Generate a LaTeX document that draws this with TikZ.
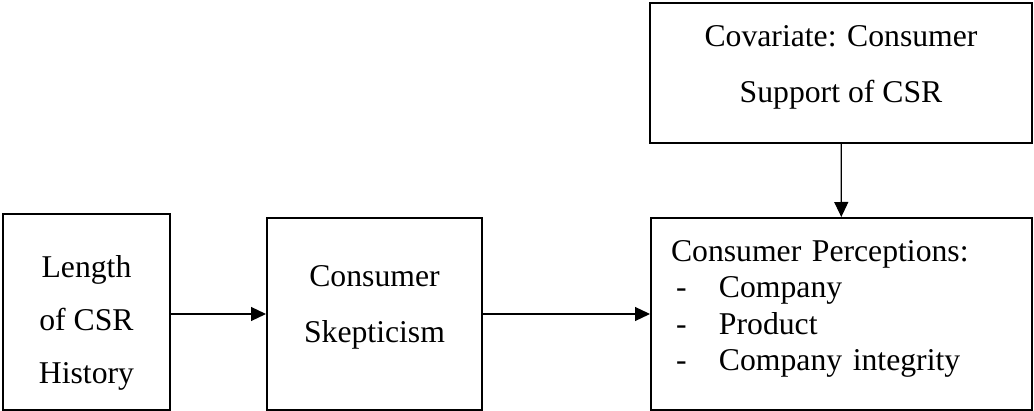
\documentclass[tikz,border=0pt]{standalone}
\usepackage{fontspec}
\setmainfont{Liberation Serif}
\usetikzlibrary{arrows.meta}

\begin{document}
\begin{tikzpicture}[x=0.5pt,y=-0.5pt,
    box/.style={draw, line width=1pt, align=center, inner sep=0pt},
    arr/.style={-{Triangle[length=7.5pt,width=7pt]}, line width=0.6pt}]
    \useasboundingbox (0,0) rectangle (1034,411);
    % the four boxes
    \node[box, minimum width=83.5pt, minimum height=98pt, font=\fontsize{15.85}{26.5}\selectfont] (len) at (86.5,312) {\rule{0pt}{21.8pt}Length\\of CSR\\History};
    \node[box, minimum width=107.5pt, minimum height=96pt, font=\fontsize{15.85}{28}\selectfont] (skep) at (374.5,314) {Consumer\\Skepticism\rule[-9.5pt]{0pt}{9.5pt}};
    \node[box, align=left, text width=170.5pt, inner xsep=10pt, minimum height=96pt, font=\fontsize{15.85}{18.3}\selectfont] (perc) at (841.5,314)
      {Consumer Perceptions:\\
       \hspace*{2.5pt}\makebox[21.5pt][l]{-}Company\\
       \hspace*{2.5pt}\makebox[21.5pt][l]{-}Product\\
       \hspace*{2.5pt}\makebox[21.5pt][l]{-}Company integrity\rule[-8.5pt]{0pt}{8.5pt}};
    \node[box, minimum width=191pt, minimum height=70pt, font=\fontsize{15.85}{28}\selectfont] (cov) at (841,73) {Covariate: Consumer\\Support of CSR\rule[-8.5pt]{0pt}{8.5pt}};
    % arrows
    \draw[arr] (len.east |- skep.west) -- (skep.west);
    \draw[arr] (skep) -- (perc);
    \draw[arr] (cov) -- (perc);
\end{tikzpicture}
\end{document}
